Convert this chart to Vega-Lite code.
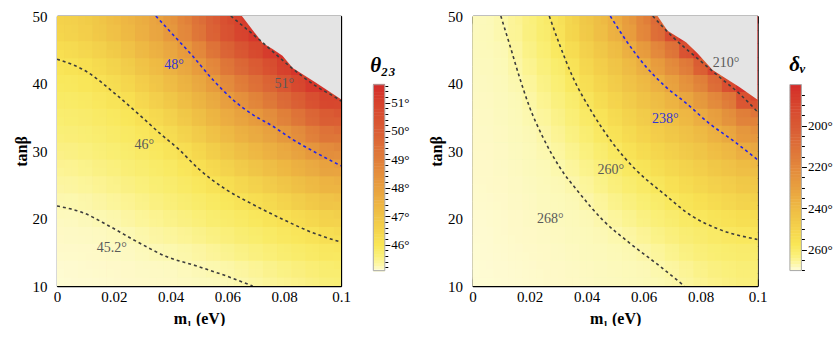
{
"$schema":"https://vega.github.io/schema/vega-lite/v6.json",
"autosize":{"type":"pad"},
"padding":{"left":13,"top":9,"right":0,"bottom":0},
"config":{"view":{"stroke":null},"font":"Liberation Serif",
"axis":{"labelFont":"Liberation Serif","titleFont":"Liberation Serif","labelFontSize":15,"titleFontSize":16,"titleFontWeight":"bold","labelColor":"#000","titleColor":"#000","tickColor":"#000","domainColor":"#000","domainWidth":1.3,"tickWidth":1,"grid":false,"labelFlush":false,"zindex":1},
"text":{"font":"Liberation Serif"}},
"datasets":{
"thetaCells":[
{"m":0.0025,"t":11.25,"v":45.10},{"m":0.0025,"t":13.75,"v":45.12},{"m":0.0025,"t":16.25,"v":45.15},{"m":0.0025,"t":18.75,"v":45.17},{"m":0.0025,"t":21.25,"v":45.20},{"m":0.0025,"t":23.75,"v":45.28},{"m":0.0025,"t":26.25,"v":45.37},{"m":0.0025,"t":28.75,"v":45.46},{"m":0.0025,"t":31.25,"v":45.56},{"m":0.0025,"t":33.75,"v":45.65},{"m":0.0025,"t":36.25,"v":45.74},{"m":0.0025,"t":38.75,"v":45.84},{"m":0.0025,"t":41.25,"v":45.93},{"m":0.0025,"t":43.75,"v":46.06},{"m":0.0025,"t":46.25,"v":46.32},{"m":0.0025,"t":48.75,"v":46.59},
{"m":0.0075,"t":11.25,"v":45.11},{"m":0.0075,"t":13.75,"v":45.13},{"m":0.0075,"t":16.25,"v":45.15},{"m":0.0075,"t":18.75,"v":45.18},{"m":0.0075,"t":21.25,"v":45.21},{"m":0.0075,"t":23.75,"v":45.30},{"m":0.0075,"t":26.25,"v":45.39},{"m":0.0075,"t":28.75,"v":45.49},{"m":0.0075,"t":31.25,"v":45.58},{"m":0.0075,"t":33.75,"v":45.68},{"m":0.0075,"t":36.25,"v":45.77},{"m":0.0075,"t":38.75,"v":45.86},{"m":0.0075,"t":41.25,"v":45.96},{"m":0.0075,"t":43.75,"v":46.15},{"m":0.0075,"t":46.25,"v":46.42},{"m":0.0075,"t":48.75,"v":46.68},
{"m":0.0125,"t":11.25,"v":45.11},{"m":0.0125,"t":13.75,"v":45.14},{"m":0.0125,"t":16.25,"v":45.16},{"m":0.0125,"t":18.75,"v":45.19},{"m":0.0125,"t":21.25,"v":45.24},{"m":0.0125,"t":23.75,"v":45.34},{"m":0.0125,"t":26.25,"v":45.43},{"m":0.0125,"t":28.75,"v":45.53},{"m":0.0125,"t":31.25,"v":45.62},{"m":0.0125,"t":33.75,"v":45.72},{"m":0.0125,"t":36.25,"v":45.81},{"m":0.0125,"t":38.75,"v":45.91},{"m":0.0125,"t":41.25,"v":46.01},{"m":0.0125,"t":43.75,"v":46.28},{"m":0.0125,"t":46.25,"v":46.55},{"m":0.0125,"t":48.75,"v":46.83},
{"m":0.0175,"t":11.25,"v":45.12},{"m":0.0175,"t":13.75,"v":45.15},{"m":0.0175,"t":16.25,"v":45.17},{"m":0.0175,"t":18.75,"v":45.20},{"m":0.0175,"t":21.25,"v":45.28},{"m":0.0175,"t":23.75,"v":45.38},{"m":0.0175,"t":26.25,"v":45.48},{"m":0.0175,"t":28.75,"v":45.58},{"m":0.0175,"t":31.25,"v":45.68},{"m":0.0175,"t":33.75,"v":45.77},{"m":0.0175,"t":36.25,"v":45.87},{"m":0.0175,"t":38.75,"v":45.97},{"m":0.0175,"t":41.25,"v":46.19},{"m":0.0175,"t":43.75,"v":46.47},{"m":0.0175,"t":46.25,"v":46.75},{"m":0.0175,"t":48.75,"v":47.03},
{"m":0.0225,"t":11.25,"v":45.13},{"m":0.0225,"t":13.75,"v":45.16},{"m":0.0225,"t":16.25,"v":45.18},{"m":0.0225,"t":18.75,"v":45.23},{"m":0.0225,"t":21.25,"v":45.33},{"m":0.0225,"t":23.75,"v":45.44},{"m":0.0225,"t":26.25,"v":45.54},{"m":0.0225,"t":28.75,"v":45.64},{"m":0.0225,"t":31.25,"v":45.74},{"m":0.0225,"t":33.75,"v":45.84},{"m":0.0225,"t":36.25,"v":45.94},{"m":0.0225,"t":38.75,"v":46.11},{"m":0.0225,"t":41.25,"v":46.39},{"m":0.0225,"t":43.75,"v":46.67},{"m":0.0225,"t":46.25,"v":46.96},{"m":0.0225,"t":48.75,"v":47.24},
{"m":0.0275,"t":11.25,"v":45.14},{"m":0.0275,"t":13.75,"v":45.17},{"m":0.0275,"t":16.25,"v":45.19},{"m":0.0275,"t":18.75,"v":45.29},{"m":0.0275,"t":21.25,"v":45.39},{"m":0.0275,"t":23.75,"v":45.49},{"m":0.0275,"t":26.25,"v":45.60},{"m":0.0275,"t":28.75,"v":45.70},{"m":0.0275,"t":31.25,"v":45.81},{"m":0.0275,"t":33.75,"v":45.91},{"m":0.0275,"t":36.25,"v":46.04},{"m":0.0275,"t":38.75,"v":46.33},{"m":0.0275,"t":41.25,"v":46.62},{"m":0.0275,"t":43.75,"v":46.90},{"m":0.0275,"t":46.25,"v":47.19},{"m":0.0275,"t":48.75,"v":47.48},
{"m":0.0325,"t":11.25,"v":45.15},{"m":0.0325,"t":13.75,"v":45.18},{"m":0.0325,"t":16.25,"v":45.23},{"m":0.0325,"t":18.75,"v":45.34},{"m":0.0325,"t":21.25,"v":45.45},{"m":0.0325,"t":23.75,"v":45.55},{"m":0.0325,"t":26.25,"v":45.66},{"m":0.0325,"t":28.75,"v":45.77},{"m":0.0325,"t":31.25,"v":45.88},{"m":0.0325,"t":33.75,"v":45.99},{"m":0.0325,"t":36.25,"v":46.26},{"m":0.0325,"t":38.75,"v":46.56},{"m":0.0325,"t":41.25,"v":46.85},{"m":0.0325,"t":43.75,"v":47.14},{"m":0.0325,"t":46.25,"v":47.44},{"m":0.0325,"t":48.75,"v":47.73},
{"m":0.0375,"t":11.25,"v":45.16},{"m":0.0375,"t":13.75,"v":45.19},{"m":0.0375,"t":16.25,"v":45.28},{"m":0.0375,"t":18.75,"v":45.39},{"m":0.0375,"t":21.25,"v":45.50},{"m":0.0375,"t":23.75,"v":45.62},{"m":0.0375,"t":26.25,"v":45.73},{"m":0.0375,"t":28.75,"v":45.84},{"m":0.0375,"t":31.25,"v":45.96},{"m":0.0375,"t":33.75,"v":46.19},{"m":0.0375,"t":36.25,"v":46.49},{"m":0.0375,"t":38.75,"v":46.79},{"m":0.0375,"t":41.25,"v":47.09},{"m":0.0375,"t":43.75,"v":47.39},{"m":0.0375,"t":46.25,"v":47.70},{"m":0.0375,"t":48.75,"v":48.00},
{"m":0.0425,"t":11.25,"v":45.17},{"m":0.0425,"t":13.75,"v":45.20},{"m":0.0425,"t":16.25,"v":45.31},{"m":0.0425,"t":18.75,"v":45.44},{"m":0.0425,"t":21.25,"v":45.56},{"m":0.0425,"t":23.75,"v":45.68},{"m":0.0425,"t":26.25,"v":45.80},{"m":0.0425,"t":28.75,"v":45.92},{"m":0.0425,"t":31.25,"v":46.11},{"m":0.0425,"t":33.75,"v":46.42},{"m":0.0425,"t":36.25,"v":46.73},{"m":0.0425,"t":38.75,"v":47.04},{"m":0.0425,"t":41.25,"v":47.35},{"m":0.0425,"t":43.75,"v":47.66},{"m":0.0425,"t":46.25,"v":47.97},{"m":0.0425,"t":48.75,"v":48.51},
{"m":0.0475,"t":11.25,"v":45.18},{"m":0.0475,"t":13.75,"v":45.23},{"m":0.0475,"t":16.25,"v":45.36},{"m":0.0475,"t":18.75,"v":45.49},{"m":0.0475,"t":21.25,"v":45.63},{"m":0.0475,"t":23.75,"v":45.76},{"m":0.0475,"t":26.25,"v":45.89},{"m":0.0475,"t":28.75,"v":46.06},{"m":0.0475,"t":31.25,"v":46.37},{"m":0.0475,"t":33.75,"v":46.69},{"m":0.0475,"t":36.25,"v":47.00},{"m":0.0475,"t":38.75,"v":47.32},{"m":0.0475,"t":41.25,"v":47.63},{"m":0.0475,"t":43.75,"v":47.94},{"m":0.0475,"t":46.25,"v":48.48},{"m":0.0475,"t":48.75,"v":49.05},
{"m":0.0525,"t":11.25,"v":45.19},{"m":0.0525,"t":13.75,"v":45.27},{"m":0.0525,"t":16.25,"v":45.41},{"m":0.0525,"t":18.75,"v":45.56},{"m":0.0525,"t":21.25,"v":45.70},{"m":0.0525,"t":23.75,"v":45.84},{"m":0.0525,"t":26.25,"v":45.99},{"m":0.0525,"t":28.75,"v":46.30},{"m":0.0525,"t":31.25,"v":46.62},{"m":0.0525,"t":33.75,"v":46.95},{"m":0.0525,"t":36.25,"v":47.28},{"m":0.0525,"t":38.75,"v":47.61},{"m":0.0525,"t":41.25,"v":47.94},{"m":0.0525,"t":43.75,"v":48.48},{"m":0.0525,"t":46.25,"v":49.07},{"m":0.0525,"t":48.75,"v":49.66},
{"m":0.0575,"t":11.25,"v":45.19},{"m":0.0575,"t":13.75,"v":45.32},{"m":0.0575,"t":16.25,"v":45.47},{"m":0.0575,"t":18.75,"v":45.62},{"m":0.0575,"t":21.25,"v":45.78},{"m":0.0575,"t":23.75,"v":45.93},{"m":0.0575,"t":26.25,"v":46.19},{"m":0.0575,"t":28.75,"v":46.53},{"m":0.0575,"t":31.25,"v":46.87},{"m":0.0575,"t":33.75,"v":47.22},{"m":0.0575,"t":36.25,"v":47.56},{"m":0.0575,"t":38.75,"v":47.90},{"m":0.0575,"t":41.25,"v":48.43},{"m":0.0575,"t":43.75,"v":49.03},{"m":0.0575,"t":46.25,"v":49.64},{"m":0.0575,"t":48.75,"v":50.24},
{"m":0.0625,"t":11.25,"v":45.22},{"m":0.0625,"t":13.75,"v":45.37},{"m":0.0625,"t":16.25,"v":45.53},{"m":0.0625,"t":18.75,"v":45.69},{"m":0.0625,"t":21.25,"v":45.85},{"m":0.0625,"t":23.75,"v":46.02},{"m":0.0625,"t":26.25,"v":46.38},{"m":0.0625,"t":28.75,"v":46.74},{"m":0.0625,"t":31.25,"v":47.11},{"m":0.0625,"t":33.75,"v":47.47},{"m":0.0625,"t":36.25,"v":47.83},{"m":0.0625,"t":38.75,"v":48.33},{"m":0.0625,"t":41.25,"v":48.95},{"m":0.0625,"t":43.75,"v":49.56},{"m":0.0625,"t":46.25,"v":50.18},{"m":0.0625,"t":48.75,"v":50.80},
{"m":0.0675,"t":11.25,"v":45.27},{"m":0.0675,"t":13.75,"v":45.43},{"m":0.0675,"t":16.25,"v":45.60},{"m":0.0675,"t":18.75,"v":45.76},{"m":0.0675,"t":21.25,"v":45.92},{"m":0.0675,"t":23.75,"v":46.20},{"m":0.0675,"t":26.25,"v":46.57},{"m":0.0675,"t":28.75,"v":46.94},{"m":0.0675,"t":31.25,"v":47.32},{"m":0.0675,"t":33.75,"v":47.69},{"m":0.0675,"t":36.25,"v":48.10},{"m":0.0675,"t":38.75,"v":48.73},{"m":0.0675,"t":41.25,"v":49.36},{"m":0.0675,"t":43.75,"v":49.98},{"m":0.0675,"t":46.25,"v":50.61},{"m":0.0675,"t":48.75,"v":51.24},
{"m":0.0725,"t":11.25,"v":45.32},{"m":0.0725,"t":13.75,"v":45.49},{"m":0.0725,"t":16.25,"v":45.66},{"m":0.0725,"t":18.75,"v":45.83},{"m":0.0725,"t":21.25,"v":46.00},{"m":0.0725,"t":23.75,"v":46.37},{"m":0.0725,"t":26.25,"v":46.75},{"m":0.0725,"t":28.75,"v":47.13},{"m":0.0725,"t":31.25,"v":47.50},{"m":0.0725,"t":33.75,"v":47.88},{"m":0.0725,"t":36.25,"v":48.45},{"m":0.0725,"t":38.75,"v":49.10},{"m":0.0725,"t":41.25,"v":49.75},{"m":0.0725,"t":43.75,"v":50.41},{"m":0.0725,"t":46.25,"v":51.06},{"m":0.0725,"t":48.75,"v":51.63},
{"m":0.0775,"t":11.25,"v":45.38},{"m":0.0775,"t":13.75,"v":45.55},{"m":0.0775,"t":16.25,"v":45.73},{"m":0.0775,"t":18.75,"v":45.90},{"m":0.0775,"t":21.25,"v":46.16},{"m":0.0775,"t":23.75,"v":46.54},{"m":0.0775,"t":26.25,"v":46.93},{"m":0.0775,"t":28.75,"v":47.31},{"m":0.0775,"t":31.25,"v":47.69},{"m":0.0775,"t":33.75,"v":48.14},{"m":0.0775,"t":36.25,"v":48.82},{"m":0.0775,"t":38.75,"v":49.51},{"m":0.0775,"t":41.25,"v":50.20},{"m":0.0775,"t":43.75,"v":50.88},{"m":0.0775,"t":46.25,"v":51.57},{"m":0.0775,"t":48.75,"v":51.63},
{"m":0.0825,"t":11.25,"v":45.44},{"m":0.0825,"t":13.75,"v":45.61},{"m":0.0825,"t":16.25,"v":45.79},{"m":0.0825,"t":18.75,"v":45.96},{"m":0.0825,"t":21.25,"v":46.31},{"m":0.0825,"t":23.75,"v":46.71},{"m":0.0825,"t":26.25,"v":47.11},{"m":0.0825,"t":28.75,"v":47.51},{"m":0.0825,"t":31.25,"v":47.91},{"m":0.0825,"t":33.75,"v":48.54},{"m":0.0825,"t":36.25,"v":49.26},{"m":0.0825,"t":38.75,"v":49.97},{"m":0.0825,"t":41.25,"v":50.68},{"m":0.0825,"t":43.75,"v":51.39},{"m":0.0825,"t":46.25,"v":51.63},{"m":0.0825,"t":48.75,"v":51.63},
{"m":0.0875,"t":11.25,"v":45.49},{"m":0.0875,"t":13.75,"v":45.67},{"m":0.0875,"t":16.25,"v":45.85},{"m":0.0875,"t":18.75,"v":46.06},{"m":0.0875,"t":21.25,"v":46.47},{"m":0.0875,"t":23.75,"v":46.87},{"m":0.0875,"t":26.25,"v":47.28},{"m":0.0875,"t":28.75,"v":47.69},{"m":0.0875,"t":31.25,"v":48.18},{"m":0.0875,"t":33.75,"v":48.92},{"m":0.0875,"t":36.25,"v":49.66},{"m":0.0875,"t":38.75,"v":50.40},{"m":0.0875,"t":41.25,"v":51.14},{"m":0.0875,"t":43.75,"v":51.63},{"m":0.0875,"t":46.25,"v":51.63},{"m":0.0875,"t":48.75,"v":51.63},
{"m":0.0925,"t":11.25,"v":45.55},{"m":0.0925,"t":13.75,"v":45.73},{"m":0.0925,"t":16.25,"v":45.90},{"m":0.0925,"t":18.75,"v":46.19},{"m":0.0925,"t":21.25,"v":46.62},{"m":0.0925,"t":23.75,"v":47.04},{"m":0.0925,"t":26.25,"v":47.46},{"m":0.0925,"t":28.75,"v":47.88},{"m":0.0925,"t":31.25,"v":48.55},{"m":0.0925,"t":33.75,"v":49.31},{"m":0.0925,"t":36.25,"v":50.07},{"m":0.0925,"t":38.75,"v":50.84},{"m":0.0925,"t":41.25,"v":51.60},{"m":0.0925,"t":43.75,"v":51.63},{"m":0.0925,"t":46.25,"v":51.63},{"m":0.0925,"t":48.75,"v":51.63},
{"m":0.0975,"t":11.25,"v":45.61},{"m":0.0975,"t":13.75,"v":45.78},{"m":0.0975,"t":16.25,"v":45.96},{"m":0.0975,"t":18.75,"v":46.34},{"m":0.0975,"t":21.25,"v":46.77},{"m":0.0975,"t":23.75,"v":47.20},{"m":0.0975,"t":26.25,"v":47.64},{"m":0.0975,"t":28.75,"v":48.12},{"m":0.0975,"t":31.25,"v":48.90},{"m":0.0975,"t":33.75,"v":49.67},{"m":0.0975,"t":36.25,"v":50.44},{"m":0.0975,"t":38.75,"v":51.21},{"m":0.0975,"t":41.25,"v":51.63},{"m":0.0975,"t":43.75,"v":51.63},{"m":0.0975,"t":46.25,"v":51.63},{"m":0.0975,"t":48.75,"v":51.63}
],
"deltaCells":[
{"m":0.0025,"t":11.25,"v":270.1},{"m":0.0025,"t":13.75,"v":270.0},{"m":0.0025,"t":16.25,"v":269.9},{"m":0.0025,"t":18.75,"v":269.8},{"m":0.0025,"t":21.25,"v":269.7},{"m":0.0025,"t":23.75,"v":269.5},{"m":0.0025,"t":26.25,"v":269.4},{"m":0.0025,"t":28.75,"v":269.3},{"m":0.0025,"t":31.25,"v":269.2},{"m":0.0025,"t":33.75,"v":269.1},{"m":0.0025,"t":36.25,"v":269.0},{"m":0.0025,"t":38.75,"v":268.9},{"m":0.0025,"t":41.25,"v":268.8},{"m":0.0025,"t":43.75,"v":268.7},{"m":0.0025,"t":46.25,"v":268.6},{"m":0.0025,"t":48.75,"v":268.5},
{"m":0.0075,"t":11.25,"v":269.9},{"m":0.0075,"t":13.75,"v":269.8},{"m":0.0075,"t":16.25,"v":269.7},{"m":0.0075,"t":18.75,"v":269.6},{"m":0.0075,"t":21.25,"v":269.5},{"m":0.0075,"t":23.75,"v":269.4},{"m":0.0075,"t":26.25,"v":269.2},{"m":0.0075,"t":28.75,"v":269.1},{"m":0.0075,"t":31.25,"v":269.0},{"m":0.0075,"t":33.75,"v":268.9},{"m":0.0075,"t":36.25,"v":268.8},{"m":0.0075,"t":38.75,"v":268.7},{"m":0.0075,"t":41.25,"v":268.6},{"m":0.0075,"t":43.75,"v":268.4},{"m":0.0075,"t":46.25,"v":268.3},{"m":0.0075,"t":48.75,"v":268.2},
{"m":0.0125,"t":11.25,"v":269.8},{"m":0.0125,"t":13.75,"v":269.6},{"m":0.0125,"t":16.25,"v":269.5},{"m":0.0125,"t":18.75,"v":269.4},{"m":0.0125,"t":21.25,"v":269.3},{"m":0.0125,"t":23.75,"v":269.1},{"m":0.0125,"t":26.25,"v":269.0},{"m":0.0125,"t":28.75,"v":268.9},{"m":0.0125,"t":31.25,"v":268.8},{"m":0.0125,"t":33.75,"v":268.6},{"m":0.0125,"t":36.25,"v":268.5},{"m":0.0125,"t":38.75,"v":268.4},{"m":0.0125,"t":41.25,"v":268.3},{"m":0.0125,"t":43.75,"v":268.1},{"m":0.0125,"t":46.25,"v":268.0},{"m":0.0125,"t":48.75,"v":267.1},
{"m":0.0175,"t":11.25,"v":269.6},{"m":0.0175,"t":13.75,"v":269.5},{"m":0.0175,"t":16.25,"v":269.3},{"m":0.0175,"t":18.75,"v":269.2},{"m":0.0175,"t":21.25,"v":269.0},{"m":0.0175,"t":23.75,"v":268.9},{"m":0.0175,"t":26.25,"v":268.8},{"m":0.0175,"t":28.75,"v":268.6},{"m":0.0175,"t":31.25,"v":268.5},{"m":0.0175,"t":33.75,"v":268.3},{"m":0.0175,"t":36.25,"v":268.2},{"m":0.0175,"t":38.75,"v":268.1},{"m":0.0175,"t":41.25,"v":267.4},{"m":0.0175,"t":43.75,"v":266.5},{"m":0.0175,"t":46.25,"v":265.5},{"m":0.0175,"t":48.75,"v":264.6},
{"m":0.0225,"t":11.25,"v":269.5},{"m":0.0225,"t":13.75,"v":269.3},{"m":0.0225,"t":16.25,"v":269.1},{"m":0.0225,"t":18.75,"v":269.0},{"m":0.0225,"t":21.25,"v":268.8},{"m":0.0225,"t":23.75,"v":268.7},{"m":0.0225,"t":26.25,"v":268.5},{"m":0.0225,"t":28.75,"v":268.3},{"m":0.0225,"t":31.25,"v":268.2},{"m":0.0225,"t":33.75,"v":268.0},{"m":0.0225,"t":36.25,"v":267.2},{"m":0.0225,"t":38.75,"v":266.2},{"m":0.0225,"t":41.25,"v":265.3},{"m":0.0225,"t":43.75,"v":264.3},{"m":0.0225,"t":46.25,"v":263.4},{"m":0.0225,"t":48.75,"v":262.5},
{"m":0.0275,"t":11.25,"v":269.3},{"m":0.0275,"t":13.75,"v":269.1},{"m":0.0275,"t":16.25,"v":269.0},{"m":0.0275,"t":18.75,"v":268.8},{"m":0.0275,"t":21.25,"v":268.6},{"m":0.0275,"t":23.75,"v":268.4},{"m":0.0275,"t":26.25,"v":268.3},{"m":0.0275,"t":28.75,"v":268.1},{"m":0.0275,"t":31.25,"v":267.4},{"m":0.0275,"t":33.75,"v":266.4},{"m":0.0275,"t":36.25,"v":265.4},{"m":0.0275,"t":38.75,"v":264.4},{"m":0.0275,"t":41.25,"v":263.3},{"m":0.0275,"t":43.75,"v":262.3},{"m":0.0275,"t":46.25,"v":261.3},{"m":0.0275,"t":48.75,"v":260.2},
{"m":0.0325,"t":11.25,"v":269.2},{"m":0.0325,"t":13.75,"v":269.0},{"m":0.0325,"t":16.25,"v":268.8},{"m":0.0325,"t":18.75,"v":268.6},{"m":0.0325,"t":21.25,"v":268.4},{"m":0.0325,"t":23.75,"v":268.2},{"m":0.0325,"t":26.25,"v":268.0},{"m":0.0325,"t":28.75,"v":267.0},{"m":0.0325,"t":31.25,"v":265.8},{"m":0.0325,"t":33.75,"v":264.6},{"m":0.0325,"t":36.25,"v":263.5},{"m":0.0325,"t":38.75,"v":262.3},{"m":0.0325,"t":41.25,"v":261.1},{"m":0.0325,"t":43.75,"v":260.0},{"m":0.0325,"t":46.25,"v":257.1},{"m":0.0325,"t":48.75,"v":254.2},
{"m":0.0375,"t":11.25,"v":269.0},{"m":0.0375,"t":13.75,"v":268.8},{"m":0.0375,"t":16.25,"v":268.6},{"m":0.0375,"t":18.75,"v":268.4},{"m":0.0375,"t":21.25,"v":268.2},{"m":0.0375,"t":23.75,"v":268.0},{"m":0.0375,"t":26.25,"v":266.7},{"m":0.0375,"t":28.75,"v":265.4},{"m":0.0375,"t":31.25,"v":264.1},{"m":0.0375,"t":33.75,"v":262.8},{"m":0.0375,"t":36.25,"v":261.5},{"m":0.0375,"t":38.75,"v":260.2},{"m":0.0375,"t":41.25,"v":257.4},{"m":0.0375,"t":43.75,"v":254.3},{"m":0.0375,"t":46.25,"v":251.2},{"m":0.0375,"t":48.75,"v":248.1},
{"m":0.0425,"t":11.25,"v":268.8},{"m":0.0425,"t":13.75,"v":268.6},{"m":0.0425,"t":16.25,"v":268.4},{"m":0.0425,"t":18.75,"v":268.2},{"m":0.0425,"t":21.25,"v":268.0},{"m":0.0425,"t":23.75,"v":266.7},{"m":0.0425,"t":26.25,"v":265.2},{"m":0.0425,"t":28.75,"v":263.8},{"m":0.0425,"t":31.25,"v":262.3},{"m":0.0425,"t":33.75,"v":260.9},{"m":0.0425,"t":36.25,"v":258.9},{"m":0.0425,"t":38.75,"v":255.9},{"m":0.0425,"t":41.25,"v":252.9},{"m":0.0425,"t":43.75,"v":250.0},{"m":0.0425,"t":46.25,"v":247.0},{"m":0.0425,"t":48.75,"v":244.0},
{"m":0.0475,"t":11.25,"v":268.7},{"m":0.0475,"t":13.75,"v":268.5},{"m":0.0475,"t":16.25,"v":268.3},{"m":0.0475,"t":18.75,"v":268.0},{"m":0.0475,"t":21.25,"v":266.7},{"m":0.0475,"t":23.75,"v":265.2},{"m":0.0475,"t":26.25,"v":263.6},{"m":0.0475,"t":28.75,"v":262.1},{"m":0.0475,"t":31.25,"v":260.6},{"m":0.0475,"t":33.75,"v":258.1},{"m":0.0475,"t":36.25,"v":255.1},{"m":0.0475,"t":38.75,"v":252.1},{"m":0.0475,"t":41.25,"v":249.1},{"m":0.0475,"t":43.75,"v":246.1},{"m":0.0475,"t":46.25,"v":243.1},{"m":0.0475,"t":48.75,"v":240.1},
{"m":0.0525,"t":11.25,"v":268.5},{"m":0.0525,"t":13.75,"v":268.3},{"m":0.0525,"t":16.25,"v":268.1},{"m":0.0525,"t":18.75,"v":267.1},{"m":0.0525,"t":21.25,"v":265.4},{"m":0.0525,"t":23.75,"v":263.8},{"m":0.0525,"t":26.25,"v":262.1},{"m":0.0525,"t":28.75,"v":260.5},{"m":0.0525,"t":31.25,"v":257.8},{"m":0.0525,"t":33.75,"v":254.7},{"m":0.0525,"t":36.25,"v":251.6},{"m":0.0525,"t":38.75,"v":248.5},{"m":0.0525,"t":41.25,"v":245.4},{"m":0.0525,"t":43.75,"v":242.3},{"m":0.0525,"t":46.25,"v":239.2},{"m":0.0525,"t":48.75,"v":233.2},
{"m":0.0575,"t":11.25,"v":268.4},{"m":0.0575,"t":13.75,"v":268.2},{"m":0.0575,"t":16.25,"v":267.6},{"m":0.0575,"t":18.75,"v":265.8},{"m":0.0575,"t":21.25,"v":264.1},{"m":0.0575,"t":23.75,"v":262.3},{"m":0.0575,"t":26.25,"v":260.6},{"m":0.0575,"t":28.75,"v":257.9},{"m":0.0575,"t":31.25,"v":254.7},{"m":0.0575,"t":33.75,"v":251.5},{"m":0.0575,"t":36.25,"v":248.3},{"m":0.0575,"t":38.75,"v":245.1},{"m":0.0575,"t":41.25,"v":241.9},{"m":0.0575,"t":43.75,"v":238.7},{"m":0.0575,"t":46.25,"v":231.8},{"m":0.0575,"t":48.75,"v":223.8},
{"m":0.0625,"t":11.25,"v":268.2},{"m":0.0625,"t":13.75,"v":268.0},{"m":0.0625,"t":16.25,"v":266.4},{"m":0.0625,"t":18.75,"v":264.6},{"m":0.0625,"t":21.25,"v":262.9},{"m":0.0625,"t":23.75,"v":261.1},{"m":0.0625,"t":26.25,"v":258.7},{"m":0.0625,"t":28.75,"v":255.4},{"m":0.0625,"t":31.25,"v":252.1},{"m":0.0625,"t":33.75,"v":248.7},{"m":0.0625,"t":36.25,"v":245.4},{"m":0.0625,"t":38.75,"v":242.1},{"m":0.0625,"t":41.25,"v":238.7},{"m":0.0625,"t":43.75,"v":231.6},{"m":0.0625,"t":46.25,"v":223.3},{"m":0.0625,"t":48.75,"v":215.1},
{"m":0.0675,"t":11.25,"v":268.1},{"m":0.0675,"t":13.75,"v":267.0},{"m":0.0675,"t":16.25,"v":265.2},{"m":0.0675,"t":18.75,"v":263.4},{"m":0.0675,"t":21.25,"v":261.6},{"m":0.0675,"t":23.75,"v":259.7},{"m":0.0675,"t":26.25,"v":256.2},{"m":0.0675,"t":28.75,"v":252.8},{"m":0.0675,"t":31.25,"v":249.4},{"m":0.0675,"t":33.75,"v":246.0},{"m":0.0675,"t":36.25,"v":242.6},{"m":0.0675,"t":38.75,"v":239.2},{"m":0.0675,"t":41.25,"v":232.6},{"m":0.0675,"t":43.75,"v":224.3},{"m":0.0675,"t":46.25,"v":216.1},{"m":0.0675,"t":48.75,"v":200.3},
{"m":0.0725,"t":11.25,"v":267.5},{"m":0.0725,"t":13.75,"v":265.8},{"m":0.0725,"t":16.25,"v":264.0},{"m":0.0725,"t":18.75,"v":262.2},{"m":0.0725,"t":21.25,"v":260.5},{"m":0.0725,"t":23.75,"v":257.5},{"m":0.0725,"t":26.25,"v":254.0},{"m":0.0725,"t":28.75,"v":250.6},{"m":0.0725,"t":31.25,"v":247.1},{"m":0.0725,"t":33.75,"v":243.7},{"m":0.0725,"t":36.25,"v":240.3},{"m":0.0725,"t":38.75,"v":235.1},{"m":0.0725,"t":41.25,"v":226.5},{"m":0.0725,"t":43.75,"v":217.9},{"m":0.0725,"t":46.25,"v":207.2},{"m":0.0725,"t":48.75,"v":180.2},
{"m":0.0775,"t":11.25,"v":266.3},{"m":0.0775,"t":13.75,"v":264.6},{"m":0.0775,"t":16.25,"v":262.8},{"m":0.0775,"t":18.75,"v":261.0},{"m":0.0775,"t":21.25,"v":258.6},{"m":0.0775,"t":23.75,"v":255.1},{"m":0.0775,"t":26.25,"v":251.6},{"m":0.0775,"t":28.75,"v":248.2},{"m":0.0775,"t":31.25,"v":244.7},{"m":0.0775,"t":33.75,"v":241.3},{"m":0.0775,"t":36.25,"v":237.5},{"m":0.0775,"t":38.75,"v":228.8},{"m":0.0775,"t":41.25,"v":220.2},{"m":0.0775,"t":43.75,"v":211.6},{"m":0.0775,"t":46.25,"v":180.2},{"m":0.0775,"t":48.75,"v":180.2},
{"m":0.0825,"t":11.25,"v":265.3},{"m":0.0825,"t":13.75,"v":263.6},{"m":0.0825,"t":16.25,"v":262.0},{"m":0.0825,"t":18.75,"v":260.3},{"m":0.0825,"t":21.25,"v":257.0},{"m":0.0825,"t":23.75,"v":253.4},{"m":0.0825,"t":26.25,"v":249.7},{"m":0.0825,"t":28.75,"v":246.1},{"m":0.0825,"t":31.25,"v":242.4},{"m":0.0825,"t":33.75,"v":238.8},{"m":0.0825,"t":36.25,"v":231.3},{"m":0.0825,"t":38.75,"v":222.6},{"m":0.0825,"t":41.25,"v":214.0},{"m":0.0825,"t":43.75,"v":189.8},{"m":0.0825,"t":46.25,"v":180.2},{"m":0.0825,"t":48.75,"v":180.2},
{"m":0.0875,"t":11.25,"v":264.4},{"m":0.0875,"t":13.75,"v":262.8},{"m":0.0875,"t":16.25,"v":261.3},{"m":0.0875,"t":18.75,"v":259.3},{"m":0.0875,"t":21.25,"v":255.5},{"m":0.0875,"t":23.75,"v":251.7},{"m":0.0875,"t":26.25,"v":247.9},{"m":0.0875,"t":28.75,"v":244.0},{"m":0.0875,"t":31.25,"v":240.2},{"m":0.0875,"t":33.75,"v":234.3},{"m":0.0875,"t":36.25,"v":225.5},{"m":0.0875,"t":38.75,"v":216.7},{"m":0.0875,"t":41.25,"v":201.0},{"m":0.0875,"t":43.75,"v":180.2},{"m":0.0875,"t":46.25,"v":180.2},{"m":0.0875,"t":48.75,"v":180.2},
{"m":0.0925,"t":11.25,"v":263.7},{"m":0.0925,"t":13.75,"v":262.3},{"m":0.0925,"t":16.25,"v":260.8},{"m":0.0925,"t":18.75,"v":258.3},{"m":0.0925,"t":21.25,"v":254.2},{"m":0.0925,"t":23.75,"v":250.1},{"m":0.0925,"t":26.25,"v":246.1},{"m":0.0925,"t":28.75,"v":242.0},{"m":0.0925,"t":31.25,"v":237.8},{"m":0.0925,"t":33.75,"v":228.7},{"m":0.0925,"t":36.25,"v":219.6},{"m":0.0925,"t":38.75,"v":210.6},{"m":0.0925,"t":41.25,"v":180.2},{"m":0.0925,"t":43.75,"v":180.2},{"m":0.0925,"t":46.25,"v":180.2},{"m":0.0925,"t":48.75,"v":180.2},
{"m":0.0975,"t":11.25,"v":263.2},{"m":0.0975,"t":13.75,"v":261.8},{"m":0.0975,"t":16.25,"v":260.5},{"m":0.0975,"t":18.75,"v":257.2},{"m":0.0975,"t":21.25,"v":252.8},{"m":0.0975,"t":23.75,"v":248.3},{"m":0.0975,"t":26.25,"v":243.8},{"m":0.0975,"t":28.75,"v":239.3},{"m":0.0975,"t":31.25,"v":231.3},{"m":0.0975,"t":33.75,"v":221.8},{"m":0.0975,"t":36.25,"v":212.3},{"m":0.0975,"t":38.75,"v":181.5},{"m":0.0975,"t":41.25,"v":180.2},{"m":0.0975,"t":43.75,"v":180.2},{"m":0.0975,"t":46.25,"v":180.2},{"m":0.0975,"t":48.75,"v":180.2}
],
"thetaLines":[
{"lvl":"45.2","m":0,"t":21.85},{"lvl":"45.2","m":0.0089,"t":20.9},{"lvl":"45.2","m":0.0183,"t":18.9},{"lvl":"45.2","m":0.0289,"t":16.4},{"lvl":"45.2","m":0.0383,"t":14.4},{"lvl":"45.2","m":0.0489,"t":13.0},{"lvl":"45.2","m":0.0595,"t":11.5},{"lvl":"45.2","m":0.0689,"t":10.0},
{"lvl":"46","m":0,"t":43.6},{"lvl":"46","m":0.0101,"t":41.85},{"lvl":"46","m":0.0207,"t":38.4},{"lvl":"46","m":0.0289,"t":35.4},{"lvl":"46","m":0.036,"t":32.7},{"lvl":"46","m":0.043,"t":30.2},{"lvl":"46","m":0.05,"t":27.3},{"lvl":"46","m":0.0595,"t":24.3},{"lvl":"46","m":0.0689,"t":22.1},{"lvl":"46","m":0.0794,"t":19.9},{"lvl":"46","m":0.09,"t":17.9},{"lvl":"46","m":0.1,"t":16.5},
{"lvl":"48","m":0.0348,"t":50},{"lvl":"48","m":0.0407,"t":47.3},{"lvl":"48","m":0.0477,"t":44.1},{"lvl":"48","m":0.0548,"t":40.6},{"lvl":"48","m":0.0618,"t":37.65},{"lvl":"48","m":0.0689,"t":35.4},{"lvl":"48","m":0.0759,"t":33.7},{"lvl":"48","m":0.083,"t":31.7},{"lvl":"48","m":0.0912,"t":29.75},{"lvl":"48","m":0.1,"t":27.8},
{"lvl":"51","m":0.0612,"t":50},{"lvl":"51","m":0.0712,"t":46.5},{"lvl":"51","m":0.0818,"t":42.6},{"lvl":"51","m":0.0912,"t":39.6},{"lvl":"51","m":0.0982,"t":37.9},{"lvl":"51","m":0.1,"t":37.4}
],
"deltaLines":[
{"lvl":"268","m":0.0099,"t":50},{"lvl":"268","m":0.0129,"t":45.9},{"lvl":"268","m":0.0164,"t":41.0},{"lvl":"268","m":0.0199,"t":36.6},{"lvl":"268","m":0.0246,"t":32.1},{"lvl":"268","m":0.0304,"t":27.7},{"lvl":"268","m":0.0374,"t":23.8},{"lvl":"268","m":0.0456,"t":19.8},{"lvl":"268","m":0.055,"t":16.4},{"lvl":"268","m":0.0655,"t":13.0},{"lvl":"268","m":0.0743,"t":10},
{"lvl":"260","m":0.0269,"t":50},{"lvl":"260","m":0.0304,"t":45.9},{"lvl":"260","m":0.0351,"t":41.0},{"lvl":"260","m":0.0421,"t":35.6},{"lvl":"260","m":0.0491,"t":31.2},{"lvl":"260","m":0.0573,"t":27.2},{"lvl":"260","m":0.0667,"t":23.8},{"lvl":"260","m":0.0772,"t":20.3},{"lvl":"260","m":0.0865,"t":18.4},{"lvl":"260","m":0.1,"t":16.9},
{"lvl":"238","m":0.0483,"t":50},{"lvl":"238","m":0.0538,"t":46.4},{"lvl":"238","m":0.0608,"t":42.5},{"lvl":"238","m":0.0678,"t":39.5},{"lvl":"238","m":0.0749,"t":37.1},{"lvl":"238","m":0.083,"t":34.1},{"lvl":"238","m":0.0912,"t":31.6},{"lvl":"238","m":0.1,"t":28.7},
{"lvl":"210","m":0.0632,"t":50},{"lvl":"210","m":0.0702,"t":46.9},{"lvl":"210","m":0.0784,"t":43.9},{"lvl":"210","m":0.0865,"t":41.0},{"lvl":"210","m":0.0936,"t":38.5},{"lvl":"210","m":0.1,"t":35.8}
],
"thetaLabels":[
{"m":0.0412,"t":42.7,"label":"48°","lvl":"48"},{"m":0.080,"t":40.0,"label":"51°","lvl":"51"},{"m":0.0307,"t":30.9,"label":"46°","lvl":"46"},{"m":0.0193,"t":15.7,"label":"45.2°","lvl":"45.2"}
],
"deltaLabels":[
{"m":0.0889,"t":43.0,"label":"210°","lvl":"210"},{"m":0.0676,"t":34.7,"label":"238°","lvl":"238"},{"m":0.0485,"t":27.2,"label":"260°","lvl":"260"},{"m":0.0273,"t":20.0,"label":"268°","lvl":"268"}
],
"thetaEdge":[
{"m":0.0651,"t":50},{"m":0.0724,"t":46.0},{"m":0.0759,"t":45.1},{"m":0.0794,"t":44.1},{"m":0.083,"t":42.3},{"m":0.0912,"t":40.1},{"m":0.1,"t":37.65}
],
"deltaEdge":[
{"m":0.0649,"t":50},{"m":0.0684,"t":47.8},{"m":0.0749,"t":46.1},{"m":0.0789,"t":44.5},{"m":0.0842,"t":42.0},{"m":0.0936,"t":39.5},{"m":0.1,"t":37.6}
],
"thetaBar":[
{"v":45.1},{"v":45.2},{"v":45.3},{"v":45.4},{"v":45.5},{"v":45.6},{"v":45.7},{"v":45.8},{"v":45.9},{"v":46.0},{"v":46.1},{"v":46.2},{"v":46.3},{"v":46.4},{"v":46.5},{"v":46.6},{"v":46.7},{"v":46.8},{"v":46.9},{"v":47.0},{"v":47.1},{"v":47.2},{"v":47.3},{"v":47.4},{"v":47.5},{"v":47.6},{"v":47.7},{"v":47.8},{"v":47.9},{"v":48.0},{"v":48.1},{"v":48.2},{"v":48.3},{"v":48.4},{"v":48.5},{"v":48.6},{"v":48.7},{"v":48.8},{"v":48.9},{"v":49.0},{"v":49.1},{"v":49.2},{"v":49.3},{"v":49.4},{"v":49.5},{"v":49.6},{"v":49.7},{"v":49.8},{"v":49.9},{"v":50.0},{"v":50.1},{"v":50.2},{"v":50.3},{"v":50.4},{"v":50.5},{"v":50.6},{"v":50.7},{"v":50.8},{"v":50.9},{"v":51.0},{"v":51.1},{"v":51.2},{"v":51.3},{"v":51.4},{"v":51.5},{"v":51.6}
],
"deltaBar":[
{"v":181},{"v":182.5},{"v":184},{"v":185.5},{"v":187},{"v":188.5},{"v":190},{"v":191.5},{"v":193},{"v":194.5},{"v":196},{"v":197.5},{"v":199},{"v":200.5},{"v":202},{"v":203.5},{"v":205},{"v":206.5},{"v":208},{"v":209.5},{"v":211},{"v":212.5},{"v":214},{"v":215.5},{"v":217},{"v":218.5},{"v":220},{"v":221.5},{"v":223},{"v":224.5},{"v":226},{"v":227.5},{"v":229},{"v":230.5},{"v":232},{"v":233.5},{"v":235},{"v":236.5},{"v":238},{"v":239.5},{"v":241},{"v":242.5},{"v":244},{"v":245.5},{"v":247},{"v":248.5},{"v":250},{"v":251.5},{"v":253},{"v":254.5},{"v":256},{"v":257.5},{"v":259},{"v":260.5},{"v":262},{"v":263.5},{"v":265},{"v":266.5},{"v":268},{"v":269.5}
]
},
"hconcat":[
 {"width":284,"height":270,
  "layer":[
   {"data":{"name":"thetaCells"},"mark":{"type":"rect","width":14.7,"height":17.4,"clip":true},
    "encoding":{
     "x":{"field":"m","type":"quantitative","scale":{"domain":[0,0.1],"nice":false,"zero":false},"axis":{"orient":"bottom","values":[0,0.02,0.04,0.06,0.08,0.1],"format":"~g","tickSize":-7,"labelPadding":10,"title":"m₁ (eV)","titlePadding":6,"domain":true}},
     "y":{"field":"t","type":"quantitative","scale":{"domain":[10,50],"nice":false,"zero":false},"axis":{"orient":"left","values":[10,20,30,40,50],"tickSize":-7,"labelPadding":17,"title":"tanβ","titlePadding":3,"domain":true}},
     "color":{"field":"v","type":"quantitative","scale":{"domain":[45.08,45.3,45.6,46.0,47.0,48.0,49.0,50.0,51.63],"range":["#fefcd8","#fdf7a8","#fbf07a","#f9e656","#f0c447","#e8a040","#e07e3b","#da5e36","#d42a2a"]},"legend":null}}},
   {"data":{"name":"thetaCells"},"mark":{"type":"rect","width":42.6,"height":50.6,"opacity":0.3,"clip":true},
    "encoding":{
     "x":{"field":"m","type":"quantitative","scale":{"domain":[0,0.1],"nice":false,"zero":false},"axis":null},
     "y":{"field":"t","type":"quantitative","scale":{"domain":[10,50],"nice":false,"zero":false},"axis":null},
     "color":{"field":"v","type":"quantitative","scale":{"domain":[45.08,45.3,45.6,46.0,47.0,48.0,49.0,50.0,51.63],"range":["#fefcd8","#fdf7a8","#fbf07a","#f9e656","#f0c447","#e8a040","#e07e3b","#da5e36","#d42a2a"]},"legend":null}}},
   {"data":{"name":"thetaCells"},"mark":{"type":"rect","width":28.4,"height":33.8,"opacity":0.4,"clip":true},
    "encoding":{
     "x":{"field":"m","type":"quantitative","scale":{"domain":[0,0.1],"nice":false,"zero":false},"axis":null},
     "y":{"field":"t","type":"quantitative","scale":{"domain":[10,50],"nice":false,"zero":false},"axis":null},
     "color":{"field":"v","type":"quantitative","scale":{"domain":[45.08,45.3,45.6,46.0,47.0,48.0,49.0,50.0,51.63],"range":["#fefcd8","#fdf7a8","#fbf07a","#f9e656","#f0c447","#e8a040","#e07e3b","#da5e36","#d42a2a"]},"legend":null}}},
   {"data":{"name":"thetaEdge"},"mark":{"type":"area","color":"#e4e4e4","clip":true},
    "encoding":{
     "x":{"field":"m","type":"quantitative","scale":{"domain":[0,0.1],"nice":false,"zero":false},"axis":{"orient":"top","values":[0,0.02,0.04,0.06,0.08,0.1],"tickSize":-7,"labels":false,"title":null,"domain":true}},
     "y":{"field":"t","type":"quantitative","scale":{"domain":[10,50],"nice":false,"zero":false},"axis":{"orient":"right","values":[10,20,30,40,50],"tickSize":-7,"labels":false,"title":null,"domain":true}},
     "y2":{"datum":50}}},
   {"data":{"name":"thetaLines"},"mark":{"type":"line","strokeDash":[3,3],"strokeWidth":1.6,"interpolate":"monotone","clip":true},
    "encoding":{
     "x":{"field":"m","type":"quantitative","scale":{"domain":[0,0.1],"nice":false,"zero":false},"axis":{"orient":"bottom","values":[0.004,0.008,0.012,0.016,0.024,0.028,0.032,0.036,0.044,0.048,0.052,0.056,0.064,0.068,0.072,0.076,0.084,0.088,0.092,0.096],"tickSize":-4,"labels":false,"title":null,"domain":false}},
     "y":{"field":"t","type":"quantitative","scale":{"domain":[10,50],"nice":false,"zero":false},"axis":{"orient":"left","values":[12,14,16,18,22,24,26,28,32,34,36,38,42,44,46,48],"tickSize":-4,"labels":false,"title":null,"domain":false}},
     "detail":{"field":"lvl","type":"nominal"},
     "color":{"condition":{"test":"datum.lvl === '48'","value":"#2424e8"},"value":"#3c3c3c"}}},
   {"data":{"name":"thetaLabels"},"mark":{"type":"text","fontSize":14},
    "encoding":{
     "x":{"field":"m","type":"quantitative","scale":{"domain":[0,0.1],"nice":false,"zero":false},"axis":{"orient":"top","values":[0.004,0.008,0.012,0.016,0.024,0.028,0.032,0.036,0.044,0.048,0.052,0.056,0.064,0.068,0.072,0.076,0.084,0.088,0.092,0.096],"tickSize":-4,"labels":false,"title":null,"domain":false}},
     "y":{"field":"t","type":"quantitative","scale":{"domain":[10,50],"nice":false,"zero":false},"axis":{"orient":"right","values":[12,14,16,18,22,24,26,28,32,34,36,38,42,44,46,48],"tickSize":-4,"labels":false,"title":null,"domain":false}},
     "text":{"field":"label"},
     "color":{"condition":{"test":"datum.lvl === '48'","value":"#3434d4"},"value":"#5a5a5a"}}}
  ],
  "resolve":{"axis":{"x":"independent","y":"independent"}}},
 {"width":66.7,"height":270,
  "layer":[
   {"data":{"name":"thetaBar"},"mark":{"type":"rect","height":3.3},
    "encoding":{
     "x":{"datum":0,"type":"quantitative","scale":{"domain":[0,5.8],"nice":false,"zero":false},"axis":null},
     "x2":{"datum":1},
     "y":{"field":"v","type":"quantitative","scale":{"domain":[44.54,54.05],"nice":false,"zero":false},"axis":{"orient":"right","offset":-55.2,"values":[46,47,48,49,50,51],"tickSize":5,"labelExpr":"datum.label + '°'","labelFontSize":13,"labelPadding":1,"title":null,"domain":false}},
     "color":{"field":"v","type":"quantitative","scale":{"domain":[45.08,45.3,45.6,46.0,47.0,48.0,49.0,50.0,51.63],"range":["#fefcd8","#fdf7a8","#fbf07a","#f9e656","#f0c447","#e8a040","#e07e3b","#da5e36","#d42a2a"]},"legend":null}}},
   {"data":{"values":[{"label":"θ₂₃"}]},"mark":{"type":"rect","fill":"transparent","stroke":"#a8a8a8","strokeWidth":1},
    "encoding":{
     "x":{"datum":0,"type":"quantitative","axis":null},
     "x2":{"datum":1},
     "y":{"datum":45.08,"type":"quantitative","axis":{"orient":"right","offset":-55.2,"values":[45.2,45.4,45.6,45.8,46.2,46.4,46.6,46.8,47.2,47.4,47.6,47.8,48.2,48.4,48.6,48.8,49.2,49.4,49.6,49.8,50.2,50.4,50.6,50.8,51.2,51.4,51.6],"tickSize":3,"labels":false,"title":null,"domain":false}},
     "y2":{"datum":51.63}}},
   {"data":{"values":[{"label":"θ₂₃"}]},"mark":{"type":"text","fontSize":21,"fontStyle":"italic","fontWeight":"bold","align":"center"},
    "encoding":{"x":{"datum":0.84,"type":"quantitative","axis":null},"y":{"datum":52.3,"type":"quantitative","axis":null},"text":{"field":"label"}}}
  ],
  "resolve":{"axis":{"y":"independent"}}},
 {"width":285,"height":270,
  "layer":[
   {"data":{"name":"deltaCells"},"mark":{"type":"rect","width":14.8,"height":17.4,"clip":true},
    "encoding":{
     "x":{"field":"m","type":"quantitative","scale":{"domain":[0,0.1],"nice":false,"zero":false},"axis":{"orient":"bottom","values":[0,0.02,0.04,0.06,0.08,0.1],"format":"~g","tickSize":-7,"labelPadding":10,"title":"m₁ (eV)","titlePadding":6,"domain":true}},
     "y":{"field":"t","type":"quantitative","scale":{"domain":[10,50],"nice":false,"zero":false},"axis":{"orient":"left","values":[10,20,30,40,50],"tickSize":-7,"labelPadding":17,"title":"tanβ","titlePadding":3,"domain":true}},
     "color":{"field":"v","type":"quantitative","scale":{"domain":[180.2,202.6,216.33,230.06,243.8,257.56,263.05,267.2,270.2],"range":["#d42a2a","#da5e36","#e07e3b","#e8a040","#f0c447","#f9e656","#fbf07a","#fdf7a8","#fefcd8"]},"legend":null}}},
   {"data":{"name":"deltaCells"},"mark":{"type":"rect","width":42.8,"height":50.6,"opacity":0.3,"clip":true},
    "encoding":{
     "x":{"field":"m","type":"quantitative","scale":{"domain":[0,0.1],"nice":false,"zero":false},"axis":null},
     "y":{"field":"t","type":"quantitative","scale":{"domain":[10,50],"nice":false,"zero":false},"axis":null},
     "color":{"field":"v","type":"quantitative","scale":{"domain":[180.2,202.6,216.33,230.06,243.8,257.56,263.05,267.2,270.2],"range":["#d42a2a","#da5e36","#e07e3b","#e8a040","#f0c447","#f9e656","#fbf07a","#fdf7a8","#fefcd8"]},"legend":null}}},
   {"data":{"name":"deltaCells"},"mark":{"type":"rect","width":28.5,"height":33.8,"opacity":0.4,"clip":true},
    "encoding":{
     "x":{"field":"m","type":"quantitative","scale":{"domain":[0,0.1],"nice":false,"zero":false},"axis":null},
     "y":{"field":"t","type":"quantitative","scale":{"domain":[10,50],"nice":false,"zero":false},"axis":null},
     "color":{"field":"v","type":"quantitative","scale":{"domain":[180.2,202.6,216.33,230.06,243.8,257.56,263.05,267.2,270.2],"range":["#d42a2a","#da5e36","#e07e3b","#e8a040","#f0c447","#f9e656","#fbf07a","#fdf7a8","#fefcd8"]},"legend":null}}},
   {"data":{"name":"deltaEdge"},"mark":{"type":"area","color":"#e4e4e4","clip":true},
    "encoding":{
     "x":{"field":"m","type":"quantitative","scale":{"domain":[0,0.1],"nice":false,"zero":false},"axis":{"orient":"top","values":[0,0.02,0.04,0.06,0.08,0.1],"tickSize":-7,"labels":false,"title":null,"domain":true}},
     "y":{"field":"t","type":"quantitative","scale":{"domain":[10,50],"nice":false,"zero":false},"axis":{"orient":"right","values":[10,20,30,40,50],"tickSize":-7,"labels":false,"title":null,"domain":true}},
     "y2":{"datum":50}}},
   {"data":{"name":"deltaLines"},"mark":{"type":"line","strokeDash":[3,3],"strokeWidth":1.6,"interpolate":"monotone","clip":true},
    "encoding":{
     "x":{"field":"m","type":"quantitative","scale":{"domain":[0,0.1],"nice":false,"zero":false},"axis":{"orient":"bottom","values":[0.004,0.008,0.012,0.016,0.024,0.028,0.032,0.036,0.044,0.048,0.052,0.056,0.064,0.068,0.072,0.076,0.084,0.088,0.092,0.096],"tickSize":-4,"labels":false,"title":null,"domain":false}},
     "y":{"field":"t","type":"quantitative","scale":{"domain":[10,50],"nice":false,"zero":false},"axis":{"orient":"left","values":[12,14,16,18,22,24,26,28,32,34,36,38,42,44,46,48],"tickSize":-4,"labels":false,"title":null,"domain":false}},
     "detail":{"field":"lvl","type":"nominal"},
     "color":{"condition":{"test":"datum.lvl === '238'","value":"#2424e8"},"value":"#3c3c3c"}}},
   {"data":{"name":"deltaLabels"},"mark":{"type":"text","fontSize":14},
    "encoding":{
     "x":{"field":"m","type":"quantitative","scale":{"domain":[0,0.1],"nice":false,"zero":false},"axis":{"orient":"top","values":[0.004,0.008,0.012,0.016,0.024,0.028,0.032,0.036,0.044,0.048,0.052,0.056,0.064,0.068,0.072,0.076,0.084,0.088,0.092,0.096],"tickSize":-4,"labels":false,"title":null,"domain":false}},
     "y":{"field":"t","type":"quantitative","scale":{"domain":[10,50],"nice":false,"zero":false},"axis":{"orient":"right","values":[12,14,16,18,22,24,26,28,32,34,36,38,42,44,46,48],"tickSize":-4,"labels":false,"title":null,"domain":false}},
     "text":{"field":"label"},
     "color":{"condition":{"test":"datum.lvl === '238'","value":"#3434d4"},"value":"#5a5a5a"}}}
  ],
  "resolve":{"axis":{"x":"independent","y":"independent"}}},
 {"width":11.5,"height":270,
  "layer":[
   {"data":{"name":"deltaBar"},"mark":{"type":"rect","height":3.6},
    "encoding":{
     "x":{"datum":0,"type":"quantitative","scale":{"domain":[0,1],"nice":false,"zero":false},"axis":null},
     "x2":{"datum":1},
     "y":{"field":"v","type":"quantitative","scale":{"domain":[147.0,277.66],"nice":false,"zero":false,"reverse":true},"axis":{"orient":"right","values":[200,220,240,260],"tickSize":5,"labelExpr":"datum.label + '°'","labelFontSize":13,"labelPadding":1,"title":null,"domain":false}},
     "color":{"field":"v","type":"quantitative","scale":{"domain":[180.2,202.6,216.33,230.06,243.8,257.56,263.05,267.2,270.2],"range":["#d42a2a","#da5e36","#e07e3b","#e8a040","#f0c447","#f9e656","#fbf07a","#fdf7a8","#fefcd8"]},"legend":null}}},
   {"data":{"values":[{"label":"δᵥ"}]},"mark":{"type":"rect","fill":"transparent","stroke":"#a8a8a8","strokeWidth":1},
    "encoding":{
     "x":{"datum":0,"type":"quantitative","axis":null},
     "x2":{"datum":1},
     "y":{"datum":180.2,"type":"quantitative","axis":{"orient":"right","values":[185,190,195,205,210,215,225,230,235,245,250,255,265,270],"tickSize":3,"labels":false,"title":null,"domain":false}},
     "y2":{"datum":270.2}}},
   {"data":{"values":[{"label":"δᵥ"}]},"mark":{"type":"text","fontSize":21,"fontStyle":"italic","fontWeight":"bold","align":"center"},
    "encoding":{"x":{"datum":0.64,"type":"quantitative","axis":null},"y":{"datum":170.5,"type":"quantitative","axis":null},"text":{"field":"label"}}}
  ],
  "resolve":{"axis":{"y":"independent"}}}
],
"spacing":32.3,"bounds":"flush",
"resolve":{"scale":{"color":"independent","x":"independent","y":"independent"}}
}
